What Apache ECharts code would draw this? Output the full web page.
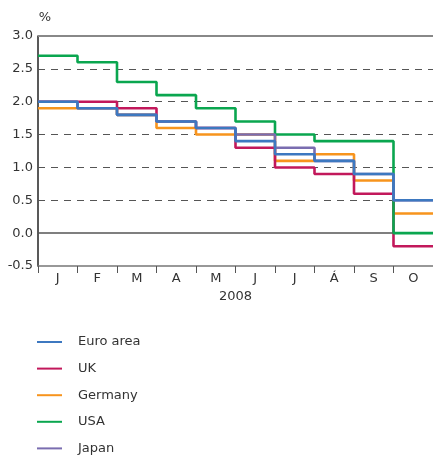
<!DOCTYPE html>
<html>
<head>
<meta charset="utf-8">
<script src="https://cdn.jsdelivr.net/npm/echarts@6/dist/echarts.min.js"></script>
<style>
  html, body { margin: 0; padding: 0; background: #fff; }
  #chart { width: 433px; height: 456px; }
</style>
</head>
<body>
<div id="chart"></div>
<script>
// Monthly key interest rates, 2008 (%)
const months = ['J', 'F', 'M', 'A', 'M', 'J', 'J', 'Á', 'S', 'O'];
const yearLabel = '2008';
const euroArea = [2.0, 1.9, 1.8, 1.7, 1.6, 1.4, 1.2, 1.1, 0.9, 0.5];
const uk       = [2.0, 2.0, 1.9, 1.7, 1.6, 1.3, 1.0, 0.9, 0.6, -0.2];
const germany  = [1.9, 1.9, 1.8, 1.6, 1.5, 1.5, 1.1, 1.2, 0.8, 0.3];
const usa      = [2.7, 2.6, 2.3, 2.1, 1.9, 1.7, 1.5, 1.4, 1.4, 0.0];
const japan    = [2.0, 1.9, 1.8, 1.7, 1.6, 1.5, 1.3, 1.1, 0.9, 0.5];
const yTicks   = ['-0.5', '0.0', '0.5', '1.0', '1.5', '2.0', '2.5', '3.0'];

const FONT = 'DejaVu Sans';
const TEXT = '#333';

// each month's value holds from the start of that month to the start of the next
function stepData(values) {
  const pts = values.map((v, i) => [i, v]);
  pts.push([values.length, values[values.length - 1]]);
  return pts;
}

function lineSeries(name, values, color, extra) {
  return Object.assign({
    name: name,
    type: 'line',
    step: 'end',
    data: stepData(values),
    showSymbol: false,
    symbol: 'none',
    lineStyle: { color: color, width: 2.6 },
    itemStyle: { color: color },
    emphasis: { disabled: true },
    animation: false
  }, extra || {});
}

// horizontal guides: dashed for inner ticks, solid for the top and the zero line
const tickValues = yTicks.map(Number);
const guideLines = tickValues
  .filter(v => v > -0.5)
  .map(v => {
    if (v === 3.0) return { yAxis: v, lineStyle: { color: '#888', type: 'solid', width: 2 } };
    if (v === 0.0) return { yAxis: v, lineStyle: { color: '#555', type: 'solid', width: 1.5 } };
    return { yAxis: v, lineStyle: { color: '#555', type: [7, 6], width: 1.2 } };
  });

const chart = echarts.init(document.getElementById('chart'), null, { renderer: 'canvas' });

chart.setOption({
  animation: false,
  backgroundColor: '#fff',
  textStyle: { fontFamily: FONT },
  grid: { left: 38, right: 0, top: 36, bottom: 190, containLabel: false },
  xAxis: [{
    type: 'value',
    min: 0,
    max: months.length,
    interval: 1,
    axisLine: { show: true, onZero: false, lineStyle: { color: '#777', width: 1.5 } },
    axisTick: { show: true, length: 7, lineStyle: { color: '#555', width: 1 } },
    splitLine: { show: false },
    axisLabel: { show: false }
  }, {
    // month initials centred inside each month
    type: 'category',
    position: 'bottom',
    data: months,
    boundaryGap: true,
    axisLine: { show: false },
    axisTick: { show: false },
    axisLabel: {
      interval: 0, margin: 6, color: TEXT, fontSize: 13, fontFamily: FONT,
      formatter: v => v
    },
    name: yearLabel,
    nameLocation: 'middle',
    nameGap: 23,
    nameTextStyle: { color: TEXT, fontSize: 13, fontFamily: FONT }
  }],
  yAxis: {
    type: 'value',
    min: -0.5,
    max: 3.0,
    interval: 0.5,
    name: '%',
    nameLocation: 'end',
    nameGap: 12,
    nameTextStyle: { color: TEXT, fontSize: 13, fontFamily: FONT, align: 'center', padding: [0, 0, 0, 14] },
    axisLine: { show: true, onZero: false, lineStyle: { color: '#222', width: 1.5 } },
    axisTick: { show: false },
    axisLabel: {
      color: TEXT, fontSize: 13, fontFamily: FONT, margin: 5,
      formatter: v => yTicks[Math.round((v + 0.5) / 0.5)]
    },
    splitLine: { show: false }
  },
  legend: {
    orient: 'vertical',
    left: 36,
    top: 335,
    padding: 0,
    itemWidth: 25,
    itemHeight: 3,
    itemGap: 12.6,
    itemStyle: { opacity: 0 },
    data: ['Euro area', 'UK', 'Germany', 'USA', 'Japan'],
    textStyle: { color: TEXT, fontSize: 13, fontFamily: FONT, padding: [0, 0, 0, 11], lineHeight: 14 },
    selectedMode: false
  },
  series: [
    lineSeries('Germany', germany, '#f7941d', {
      markLine: {
        silent: true,
        symbol: 'none',
        label: { show: false },
        animation: false,
        z: 1,
        data: guideLines
      }
    }),
    lineSeries('UK', uk, '#c2185b'),
    lineSeries('USA', usa, '#0aa64f'),
    lineSeries('Japan', japan, '#7a6db0'),
    lineSeries('Euro area', euroArea, '#3d78c0')
  ]
});
</script>
</body>
</html>
